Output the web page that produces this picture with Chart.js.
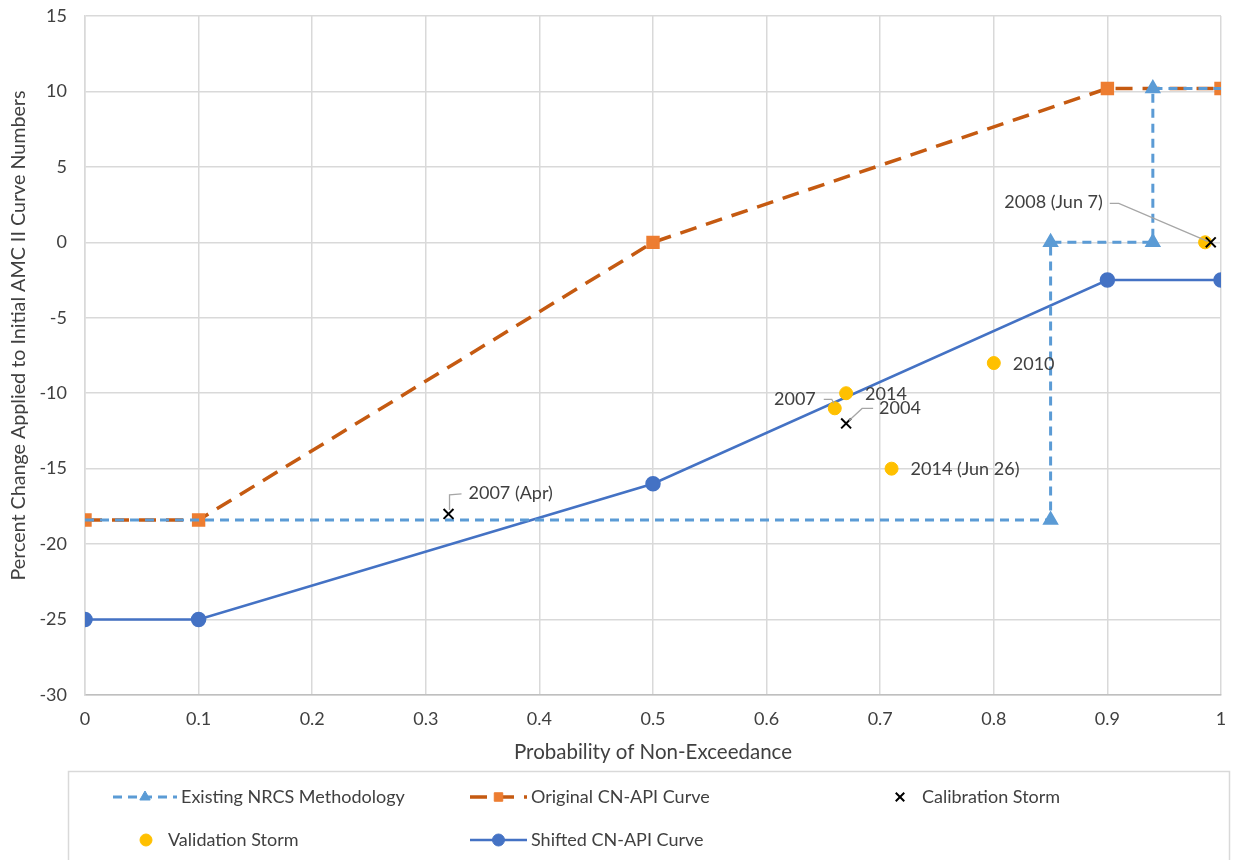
<!DOCTYPE html>
<html>
<head>
<meta charset="utf-8">
<script src="https://cdn.jsdelivr.net/npm/chart.js@4"></script>
<style>
  body { margin: 0; background: #fff; }
  #wrap { width: 1233px; height: 860px; position: relative; }
</style>
</head>
<body>
<div id="wrap"><canvas id="scatterChart"></canvas></div>
<script>
// series values
const nrcsX = [0, 0.85, 0.85, 0.94, 0.94, 1];
const nrcsY = [-18.4, -18.4, 0, 0, 10.2, 10.2];

const originalX = [0, 0.1, 0.5, 0.9, 1];
const originalY = [-18.4, -18.4, 0, 10.2, 10.2];

const shiftedX = [0, 0.1, 0.5, 0.9, 1];
const shiftedY = [-25, -25, -16, -2.5, -2.5];

const calibX = [0.32, 0.67, 0.991];
const calibY = [-18, -12, 0];
const calibLabels = ['2007 (Apr)', '2004', '2008 (Jun 7)'];

const validX = [0.66, 0.67, 0.80, 0.71, 0.986];
const validY = [-11, -10, -8, -15, 0];
const validLabels = ['2007', '2014', '2010', '2014 (Jun 26)', ''];

const seriesNames = [
  'Existing NRCS Methodology',
  'Original CN-API Curve',
  'Calibration Storm',
  'Validation Storm',
  'Shifted CN-API Curve',
];

const xTicks = [0, 0.1, 0.2, 0.3, 0.4, 0.5, 0.6, 0.7, 0.8, 0.9, 1];
const yTicks = [-30, -25, -20, -15, -10, -5, 0, 5, 10, 15];

const xTitle = 'Probability of Non-Exceedance';
const yTitle = 'Percent Change Applied to Initial AMC II Curve Numbers';

const FONT = 'Lato, "Open Sans", sans-serif';
const TEXT = '#404040';

function pts(xs, ys) {
  return xs.map((x, i) => ({ x: x, y: ys[i] }));
}

// label placement (pixel offsets from the point), kept apart from the data
const labelPlacement = {
  2: [
    { dx: 20, dy: -21, align: 'left', leader: [[1, -4], [1, -19], [13, -20]] },
    { dx: 33, dy: -15, align: 'left', leader: [[3, -3], [16, -15], [27, -15]] },
    { dx: -108, dy: -40, align: 'right', leader: [[-3, -1], [-92, -39], [-101, -39]] },
  ],
  3: [
    { dx: -19, dy: -9, align: 'right', leader: [[-11, -9], [-3, -9], [-1, -5]] },
    { dx: 19, dy: 1, align: 'left' },
    { dx: 19, dy: 1, align: 'left' },
    { dx: 19, dy: 1, align: 'left' },
    null,
  ],
};

const pointLabels = {
  id: 'pointLabels',
  afterDatasetsDraw(chart) {
    const ctx = chart.ctx;
    const texts = { 2: calibLabels, 3: validLabels };
    ctx.save();
    ctx.font = '18px ' + FONT;
    ctx.textBaseline = 'middle';
    Object.keys(labelPlacement).forEach(di => {
      const meta = chart.getDatasetMeta(+di);
      labelPlacement[di].forEach((p, i) => {
        if (!p || !texts[di][i]) return;
        const el = meta.data[i];
        if (p.leader) {
          ctx.strokeStyle = '#a6a6a6';
          ctx.lineWidth = 1.3;
          ctx.beginPath();
          p.leader.forEach((q, k) => {
            if (k === 0) ctx.moveTo(el.x + q[0], el.y + q[1]);
            else ctx.lineTo(el.x + q[0], el.y + q[1]);
          });
          ctx.stroke();
        }
        ctx.fillStyle = TEXT;
        ctx.textAlign = p.align;
        ctx.fillText(texts[di][i], el.x + p.dx, el.y + p.dy);
      });
    });
    ctx.restore();
  }
};

// y title drawn by hand: in the reference it sits a bit above the plot centre
const yAxisTitle = {
  id: 'yAxisTitle',
  afterDraw(chart) {
    const ctx = chart.ctx;
    const a = chart.chartArea;
    ctx.save();
    ctx.translate(19, (a.top + a.bottom) / 2 - 20);
    ctx.rotate(-Math.PI / 2);
    ctx.fillStyle = TEXT;
    ctx.font = '19.7px ' + FONT;
    ctx.textAlign = 'center';
    ctx.textBaseline = 'middle';
    ctx.fillText(yTitle, 0, 0);
    ctx.restore();
  }
};

// legend laid out as in the reference: 3 columns, 2 rows inside a box
const legendSlots = [
  { x: 113, y: 797, w: 64 },
  { x: 470, y: 797, w: 57 },
  { x: 882, y: 797, w: 36 },
  { x: 128, y: 840, w: 36 },
  { x: 470, y: 840, w: 57 },
];

const boxLegend = {
  id: 'boxLegend',
  afterDraw(chart) {
    const ctx = chart.ctx;
    ctx.save();
    ctx.strokeStyle = '#d9d9d9';
    ctx.lineWidth = 1.5;
    ctx.strokeRect(68.5, 771.5, 1161, 100);
    chart.data.datasets.forEach((ds, i) => {
      const s = legendSlots[i];
      const cx = s.x + s.w / 2;
      if (ds.showLine) {
        ctx.strokeStyle = ds.borderColor;
        ctx.lineWidth = ds.borderWidth;
        ctx.setLineDash(ds.borderDash || []);
        ctx.beginPath();
        ctx.moveTo(s.x, s.y);
        ctx.lineTo(s.x + s.w, s.y);
        ctx.stroke();
        ctx.setLineDash([]);
      }
      // drawPoint uses the ctx's current fill/stroke
      ctx.fillStyle = ds.pointBackgroundColor;
      ctx.strokeStyle = ds.pointBorderColor;
      ctx.lineWidth = ds.pointBorderWidth || 1;
      Chart.helpers.drawPoint(ctx, {
        pointStyle: ds.pointStyle,
        radius: 6,
        rotation: 0,
        borderWidth: ds.pointBorderWidth || 1,
      }, cx, s.y);
      ctx.fillStyle = TEXT;
      ctx.font = '18px ' + FONT;
      ctx.textAlign = 'left';
      ctx.textBaseline = 'middle';
      ctx.fillText(ds.label, s.x + s.w + 4, s.y);
    });
    ctx.restore();
  }
};

const lastIdx = nrcsX.length - 1;

const data = {
  datasets: [
    {
      label: seriesNames[0],
      data: pts(nrcsX, nrcsY),
      showLine: true,
      borderColor: '#5B9BD5',
      borderWidth: 3,
      borderDash: [9, 6],
      pointStyle: 'triangle',
      pointBackgroundColor: '#5B9BD5',
      pointBorderColor: '#5B9BD5',
      pointRadius: ctx => (ctx.dataIndex === 0 || ctx.dataIndex === lastIdx) ? 0 : 6.5,
      order: 2,
    },
    {
      label: seriesNames[1],
      data: pts(originalX, originalY),
      showLine: true,
      borderColor: '#C55A11',
      borderWidth: 3.5,
      borderDash: [17, 10],
      pointStyle: 'rect',
      pointBackgroundColor: '#ED7D31',
      pointBorderColor: '#ED7D31',
      pointRadius: 7,
      order: 3,
    },
    {
      label: seriesNames[2],
      data: pts(calibX, calibY),
      showLine: false,
      borderColor: '#000000',
      pointStyle: 'crossRot',
      pointBackgroundColor: '#000000',
      pointBorderColor: '#000000',
      pointBorderWidth: 2,
      pointRadius: 7,
      order: 0,
    },
    {
      label: seriesNames[3],
      data: pts(validX, validY),
      showLine: false,
      borderColor: '#FFC000',
      pointStyle: 'circle',
      pointBackgroundColor: '#FFC000',
      pointBorderColor: '#FFC000',
      pointRadius: 6.5,
      order: 1,
    },
    {
      label: seriesNames[4],
      data: pts(shiftedX, shiftedY),
      showLine: true,
      borderColor: '#4472C4',
      borderWidth: 2.5,
      pointStyle: 'circle',
      pointBackgroundColor: '#4472C4',
      pointBorderColor: '#4472C4',
      pointRadius: 6.5,
      order: 4,
    },
  ]
};

const config = {
  type: 'scatter',
  data: data,
  options: {
    responsive: true,
    maintainAspectRatio: false,
    animation: false,
    layout: { padding: { left: 4, right: 12, top: 16, bottom: 95 } },
    plugins: {
      legend: { display: false },
      tooltip: { enabled: false },
    },
    scales: {
      x: {
        type: 'linear',
        min: 0,
        max: 1,
        afterBuildTicks: s => { s.ticks = xTicks.map(v => ({ value: v })); },
        afterFit: s => { s.height = 70; s.paddingLeft = 0; s.paddingRight = 0; },
        grid: { color: '#d9d9d9', lineWidth: 1.5, drawTicks: false },
        border: { color: '#bfbfbf', width: 1.5 },
        ticks: {
          padding: 13,
          color: TEXT,
          font: { family: FONT, size: 18 },
          callback: v => String(Number(v.toFixed(1))),
        },
        title: {
          display: true,
          text: xTitle,
          color: TEXT,
          font: { family: FONT, size: 20.5 },
          padding: { top: 4, bottom: 0 },
        },
      },
      y: {
        type: 'linear',
        min: -30,
        max: 15,
        afterBuildTicks: s => { s.ticks = yTicks.map(v => ({ value: v })); },
        afterFit: s => { s.width = 81; s.paddingTop = 0; s.paddingBottom = 0; },
        grid: { color: '#d9d9d9', lineWidth: 1.5, drawTicks: false },
        border: { color: '#d9d9d9', width: 1.5 },
        ticks: {
          padding: 18,
          color: TEXT,
          font: { family: FONT, size: 18 },
        },
        title: { display: false },
      },
    },
  },
  plugins: [pointLabels, yAxisTitle, boxLegend],
};

const myChart = new Chart(
  document.getElementById('scatterChart'),
  config
);
</script>
</body>
</html>
